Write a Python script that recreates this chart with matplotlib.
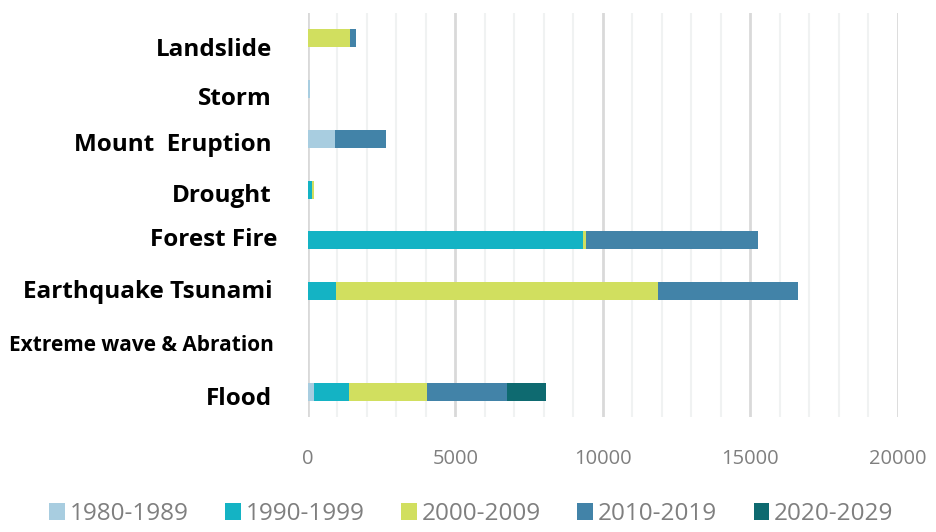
import matplotlib.pyplot as plt
import matplotlib.transforms as mtransforms
import numpy as np

categories = ['Landslide', 'Storm', 'Mount  Eruption', 'Drought', 'Forest Fire',
              'Earthquake Tsunami', 'Extreme wave & Abration', 'Flood']
periods = ['1980-1989', '1990-1999', '2000-2009', '2010-2019', '2020-2029']
colors = ['#a8cde0', '#14b3c4', '#d1df5f', '#4283a8', '#0e6a70']

v1980 = [0, 80, 920, 0, 0, 0, 0, 215]
v1990 = [0, 0, 0, 120, 9320, 940, 0, 1165]
v2000 = [1430, 0, 0, 80, 110, 10940, 0, 2670]
v2010 = [200, 0, 1720, 0, 5830, 4740, 0, 2710]
v2020 = [0, 0, 0, 0, 0, 0, 0, 1320]
series = [v1980, v1990, v2000, v2010, v2020]

label_sizes = [17.5, 17.5, 17.5, 17.5, 17.5, 17.5, 15, 17.5]
label_dy = [-9, -7, -3, -3, 3, 2, -2, -4]   # pixels, + is up
label_dx = [0, 0, 0, 0, 5, 1, 2, 0]         # pixels, + is right

fig = plt.figure(figsize=(9.37, 5.32), dpi=100)
ax = fig.add_axes([0.3287, 0.216, 0.958 - 0.3287, 0.9756 - 0.216])

y = np.arange(len(categories))
left = np.zeros(len(categories))
for vals, col, lab in zip(series, colors, periods):
    ax.barh(y, vals, left=left, height=0.36, color=col, label=lab, zorder=3)
    left += np.array(vals)

ax.set_xlim(0, 20000)
ax.set_ylim(len(categories) - 0.5, -0.5)
ax.set_xticks(np.arange(0, 20001, 5000))
ax.set_xticks(np.arange(0, 20001, 1000), minor=True)
ax.grid(axis='x', which='major', color='#d9d9d9', linewidth=2, zorder=0)
ax.grid(axis='x', which='minor', color='#f0f2f2', linewidth=1.5, zorder=0)
for s in ax.spines.values():
    s.set_visible(False)
ax.tick_params(axis='both', which='both', length=0)
ax.tick_params(axis='x', pad=23, labelsize=14.5, labelcolor='#7f7f7f')

ax.set_yticks(y)
ax.set_yticklabels(categories)
ax.tick_params(axis='y', pad=26)
for t, sz, dx, dy in zip(ax.get_yticklabels(), label_sizes, label_dx, label_dy):
    t.set_fontsize(sz)
    t.set_fontweight('bold')
    t.set_family('Open Sans')
    t.set_transform(t.get_transform() + mtransforms.ScaledTranslation(dx / 100, dy / 100, fig.dpi_scale_trans))

for t in ax.get_xticklabels():
    t.set_family('Open Sans')

leg = fig.legend(loc='lower center', bbox_to_anchor=(0.503, -0.03), ncol=5, frameon=False,
                 prop={'family': 'Open Sans', 'size': 17.5}, handlelength=0.65, handleheight=0.7,
                 handletextpad=0.2, columnspacing=1.5)
for t in leg.get_texts():
    t.set_color('#7f7f7f')

fig.savefig('out.png', dpi=100)
